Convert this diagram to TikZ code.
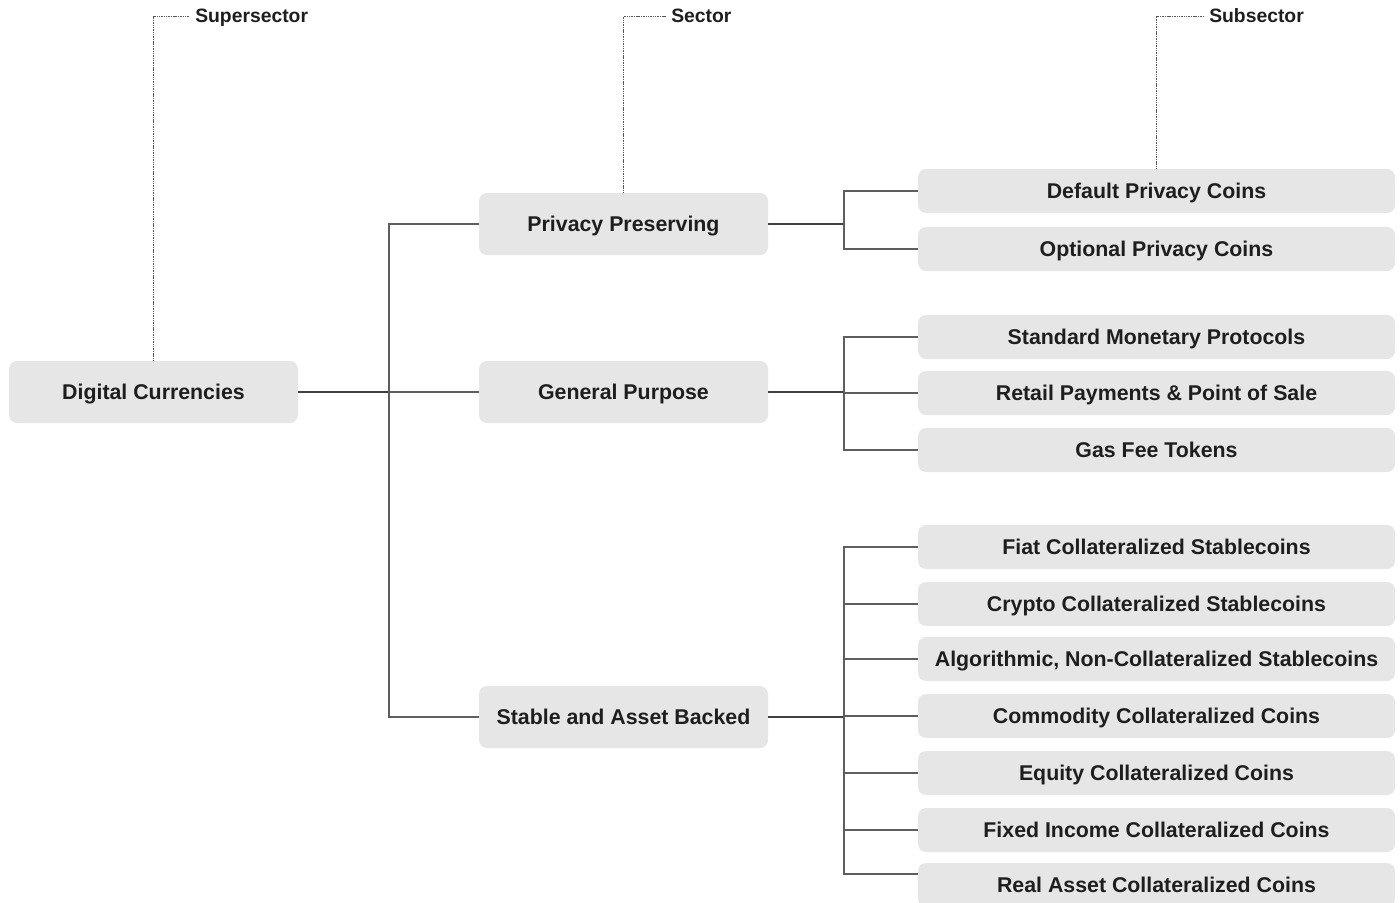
\documentclass[tikz,border=0pt]{standalone}
\usepackage{fontspec}
\setmainfont{Liberation Sans}
\begin{document}
\begin{tikzpicture}[x=0.75pt,y=-0.75pt,
  box/.style={fill=boxgray,rounded corners=6pt,draw=none,inner sep=0pt,
    text height=11.5pt,text depth=0pt,
    font=\bfseries\fontsize{16}{19}\selectfont,text=textdark},
  secbox/.style={box,minimum width=216.75pt,minimum height=46.5pt},
  subbox/.style={box,minimum width=357.75pt,minimum height=33pt},
  lab/.style={anchor=west,inner sep=3.75pt,text height=10.4pt,text depth=0pt,
    font=\bfseries\fontsize{14.5}{17}\selectfont,text=textdark},
  conn/.style={draw=linegray,line width=1pt},
  trunk/.style={draw=linedark,line width=1.2pt},
  guide/.style={draw=guidegray,line width=0.7pt,dash pattern=on 0.8pt off 0.5pt}]
\definecolor{boxgray}{HTML}{E6E6E6}
\definecolor{textdark}{HTML}{1E1E1E}
\definecolor{linegray}{HTML}{5E5E5E}
\definecolor{linedark}{HTML}{404040}
\definecolor{guidegray}{HTML}{555555}
\useasboundingbox (0,0) rectangle (1400,903);
\clip (0,0) rectangle (1400,903);

% level 1
\node[secbox] (dc) at (153.5,392) {Digital Currencies};
% level 2
\node[secbox] (pp) at (623.5,224) {Privacy Preserving};
\node[secbox] (gp) at (623.5,392) {General Purpose};
\node[secbox] (sa) at (623.5,717) {Stable and Asset Backed};
% level 3
\node[subbox] (s1) at (1156.5,191) {Default Privacy Coins};
\node[subbox] (s2) at (1156.5,249) {Optional Privacy Coins};
\node[subbox] (s3) at (1156.5,337) {Standard Monetary Protocols};
\node[subbox] (s4) at (1156.5,393) {Retail Payments \& Point of Sale};
\node[subbox] (s5) at (1156.5,450) {Gas Fee Tokens};
\node[subbox] (s6) at (1156.5,547) {Fiat Collateralized Stablecoins};
\node[subbox] (s7) at (1156.5,604) {Crypto Collateralized Stablecoins};
\node[subbox] (s8) at (1156.5,659) {Algorithmic, Non-Collateralized Stablecoins};
\node[subbox] (s9) at (1156.5,716) {Commodity Collateralized Coins};
\node[subbox] (s10) at (1156.5,773) {Equity Collateralized Coins};
\node[subbox] (s11) at (1156.5,830) {Fixed Income Collateralized Coins};
\node[subbox] (s12) at (1156.5,885) {Real Asset Collateralized Coins};

% labels
\node[lab] (l1) at (190,16) {Supersector};
\node[lab] (l2) at (666,16) {Sector};
\node[lab] (l3) at (1204,16) {Subsector};
\draw[guide] (dc.north) |- (l1.west);
\draw[guide] (pp.north) |- (l2.west);
\draw[guide] (s1.north) |- (l3.west);

% junctions
\coordinate (j1) at (389,392);
\coordinate (j2) at (844,224);
\coordinate (j3) at (844,392);
\coordinate (j4) at (844,717);
\coordinate (e12) at (918,874);

\draw[trunk] (dc.east) -- (j1);
\draw[conn] (j1) |- (pp.west);
\draw[conn] (j1) -- (gp.west);
\draw[conn] (j1) |- (sa.west);

\draw[trunk] (pp.east) -- (j2);
\draw[conn] (j2) |- (s1.west);
\draw[conn] (j2) |- (s2.west);

\draw[trunk] (gp.east) -- (j3);
\draw[conn] (j3) |- (s3.west);
\draw[conn] (j3) |- (s4.west);
\draw[conn] (j3) |- (s5.west);

\draw[trunk] (sa.east) -- (j4);
\draw[conn] (j4) |- (s6.west);
\draw[conn] (j4) |- (s7.west);
\draw[conn] (j4) |- (s8.west);
\draw[conn] (j4) |- (s9.west);
\draw[conn] (j4) |- (s10.west);
\draw[conn] (j4) |- (s11.west);
\draw[conn] (j4) |- (e12);
\end{tikzpicture}
\end{document}
